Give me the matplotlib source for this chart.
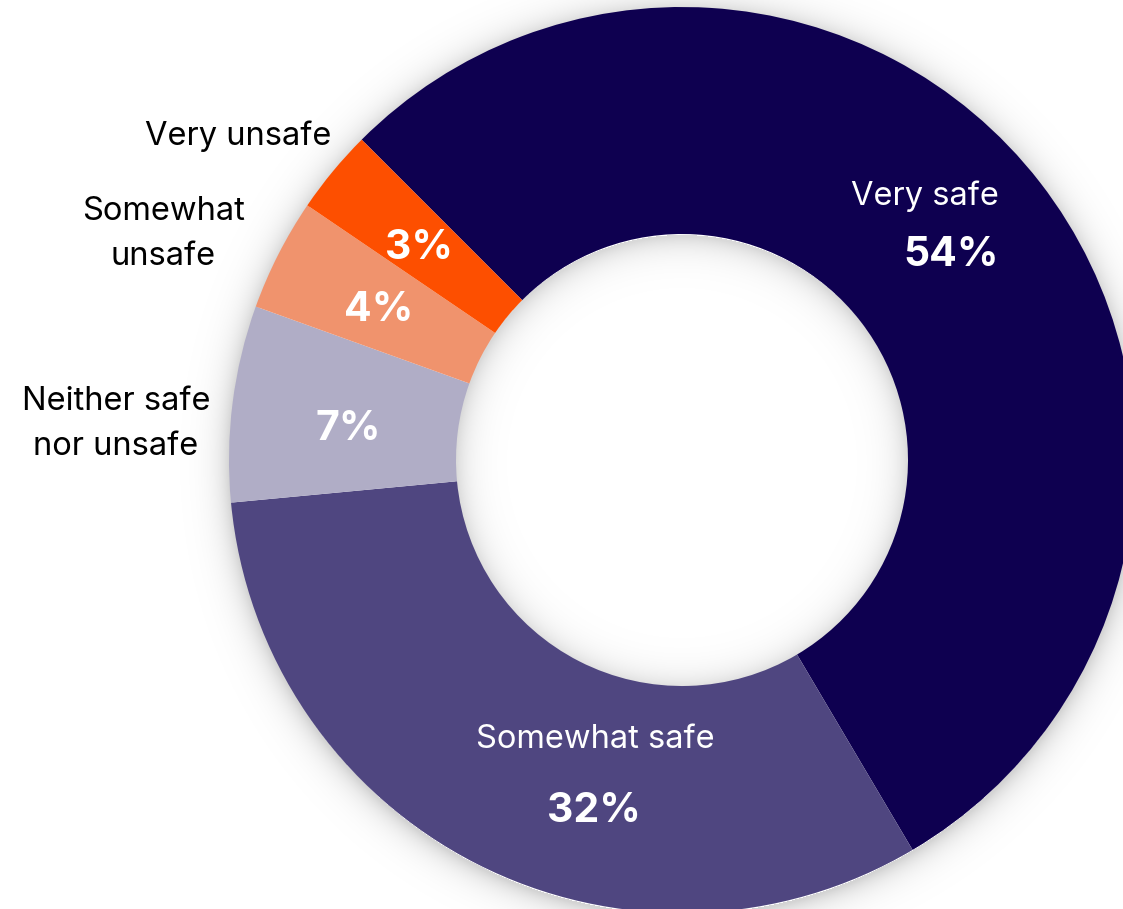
import numpy as np
import matplotlib
matplotlib.use("Agg")
import matplotlib.pyplot as plt

# Survey responses: how safe people feel
categories = ["Very safe", "Somewhat safe", "Neither safe\nnor unsafe",
              "Somewhat\nunsafe", "Very unsafe"]
shares = [54, 32, 7, 4, 3]
colors = ["#0E0050", "#4F4680", "#B0ADC6", "#F0936D", "#FD4F00"]

W, H = 1123, 909
CX, CY = 682, H - 460
R_OUT, R_IN = 453, 226

plt.rcParams["font.family"] = ["Inter", "DejaVu Sans"]

fig = plt.figure(figsize=(W / 100, H / 100), dpi=100)
ax = fig.add_axes([0, 0, 1, 1])

# soft drop shadow around the ring edges
xs = np.arange(W) + 0.5
ys = np.arange(H) + 0.5
gx, gy = np.meshgrid(xs, ys)
d = np.hypot(gx - CX, gy - (CY - 3))
alpha = np.zeros_like(d)
out = d > R_OUT - 2
alpha[out] = 0.17 * np.exp(-np.clip(d[out] - R_OUT, 0, None) / 13.0)
inn = d < R_IN + 2
alpha[inn] = 0.15 * np.exp(-np.clip(R_IN - d[inn], 0, None) / 14.0)
shadow = np.zeros((H, W, 4))
shadow[..., 3] = alpha
ax.imshow(shadow, extent=(0, W, 0, H), origin="lower", zorder=0,
          interpolation="bilinear")

ax.pie(shares, colors=colors, startangle=135, counterclock=False,
       radius=R_OUT, center=(CX, CY),
       wedgeprops=dict(width=R_OUT - R_IN, edgecolor="none", zorder=1))

ax.set_xlim(0, W)
ax.set_ylim(0, H)
ax.set_aspect("equal")
ax.axis("off")

def Y(py):
    return H - py

name_fs = 23.5
pct_fs = 29.5
spacing = 1.55

# labels inside the two large segments
ax.text(925, Y(196), categories[0], color="white", fontsize=name_fs,
        ha="center", va="center", zorder=3)
ax.text(951, Y(255), f"{shares[0]}%", color="white", fontsize=pct_fs,
        fontweight="bold", ha="center", va="center", zorder=3)
ax.text(595, Y(739), categories[1], color="white", fontsize=name_fs,
        ha="center", va="center", zorder=3)
ax.text(594, Y(811), f"{shares[1]}%", color="white", fontsize=pct_fs,
        fontweight="bold", ha="center", va="center", zorder=3)

# percentages inside the small segments
ax.text(348, Y(429), f"{shares[2]}%", color="white", fontsize=pct_fs,
        fontweight="bold", ha="center", va="center", zorder=3)
ax.text(379, Y(310), f"{shares[3]}%", color="white", fontsize=pct_fs,
        fontweight="bold", ha="center", va="center", zorder=3)
ax.text(419, Y(248), f"{shares[4]}%", color="white", fontsize=pct_fs,
        fontweight="bold", ha="center", va="center", zorder=3)

# category names outside the small segments
ax.text(331, Y(136), categories[4], color="black", fontsize=name_fs,
        ha="right", va="center", zorder=3)
ax.text(163, Y(234), categories[3], color="black", fontsize=name_fs,
        ha="center", va="center", linespacing=spacing, zorder=3)
ax.text(116, Y(424), categories[2], color="black", fontsize=name_fs,
        ha="center", va="center", linespacing=spacing, zorder=3)

fig.savefig("out.png", dpi=100, facecolor="white")
